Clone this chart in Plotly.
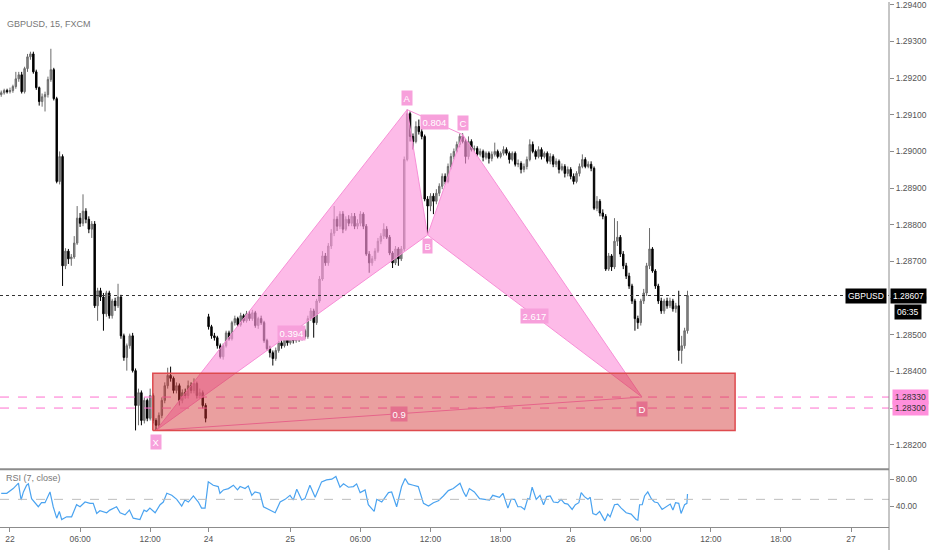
import plotly.graph_objects as go

# GBPUSD 15m candles, bar index 0 = 22 00:00 (weekend bars skipped)
bars = list(range(-3, 233))

opens = [1.29155, 1.29160, 1.29166, 1.29163, 1.29166, 1.29177, 1.29198, 1.29209, 1.29163, 1.29226,
         1.29258, 1.29266, 1.29217, 1.29174, 1.29136, 1.29149, 1.29155, 1.29196, 1.29223, 1.29144,
         1.28918, 1.28986, 1.28688, 1.28728, 1.28707, 1.28712, 1.28750, 1.28818, 1.28804, 1.28837,
         1.28815, 1.28788, 1.28802, 1.28579, 1.28620, 1.28603, 1.28557, 1.28614, 1.28552, 1.28592,
         1.28579, 1.28603, 1.28497, 1.28438, 1.28470, 1.28497, 1.28402, 1.28307, 1.28342, 1.28266,
         1.28321, 1.28272, 1.28334, 1.28266, 1.28253, 1.28280, 1.28321, 1.28361, 1.28389, 1.28381,
         1.28348, 1.28361, 1.28321, 1.28342, 1.28334, 1.28361, 1.28348, 1.28367, 1.28334, 1.28342,
         1.28307, 1.28549, 1.28522, 1.28497, 1.28492, 1.28470, 1.28440, 1.28470, 1.28505, 1.28489,
         1.28533, 1.28544, 1.28527, 1.28552, 1.28538, 1.28557, 1.28544, 1.28560, 1.28525, 1.28544,
         1.28533, 1.28484, 1.28462, 1.28451, 1.28435, 1.28457, 1.28478, 1.28470, 1.28489, 1.28478,
         1.28497, 1.28484, 1.28503, 1.28489, 1.28511, 1.28495, 1.28544, 1.28565, 1.28533, 1.28592,
         1.28652, 1.28715, 1.28696, 1.28742, 1.28777, 1.28815, 1.28796, 1.28829, 1.28788, 1.28815,
         1.28804, 1.28823, 1.28796, 1.28804, 1.28829, 1.28796, 1.28720, 1.28696, 1.28707, 1.28728,
         1.28755, 1.28769, 1.28788, 1.28766, 1.28723, 1.28696, 1.28734, 1.28707, 1.28734, 1.28978,
         1.29103, 1.29041, 1.29027, 1.29068, 1.29054, 1.29041, 1.28870, 1.28851, 1.28878, 1.28864,
         1.28886, 1.28905, 1.28932, 1.28918, 1.28959, 1.28986, 1.29000, 1.29019, 1.29041, 1.29027,
         1.28986, 1.29027, 1.29005, 1.29008, 1.28992, 1.29000, 1.28984, 1.28995, 1.28981, 1.28992,
         1.29000, 1.28986, 1.28995, 1.29005, 1.28995, 1.28978, 1.28995, 1.28965, 1.28967, 1.28951,
         1.28959, 1.28978, 1.29019, 1.29000, 1.28986, 1.29005, 1.28986, 1.28995, 1.28973, 1.28986,
         1.28965, 1.28973, 1.28951, 1.28959, 1.28940, 1.28951, 1.28932, 1.28918, 1.28940, 1.28959,
         1.28978, 1.28959, 1.28965, 1.28954, 1.28845, 1.28864, 1.28832, 1.28823, 1.28679, 1.28715,
         1.28685, 1.28755, 1.28766, 1.28720, 1.28688, 1.28660, 1.28633, 1.28592, 1.28544, 1.28533,
         1.28592, 1.28614, 1.28688, 1.28734, 1.28674, 1.28633, 1.28592, 1.28565, 1.28592, 1.28579,
         1.28592, 1.28571, 1.28579, 1.28457, 1.28470, 1.28511]

highs = [1.29166, 1.29171, 1.29171, 1.29174, 1.29182, 1.29217, 1.29217, 1.29217, 1.29231, 1.29266,
         1.29272, 1.29272, 1.29223, 1.29177, 1.29158, 1.29163, 1.29204, 1.29280, 1.29228, 1.29149,
         1.29000, 1.28992, 1.28736, 1.28734, 1.28720, 1.28769, 1.28851, 1.28832, 1.28883, 1.28845,
         1.28823, 1.28810, 1.28810, 1.28628, 1.28628, 1.28614, 1.28620, 1.28620, 1.28598, 1.28601,
         1.28639, 1.28609, 1.28503, 1.28476, 1.28503, 1.28505, 1.28408, 1.28353, 1.28348, 1.28329,
         1.28326, 1.28353, 1.28340, 1.28272, 1.28288, 1.28329, 1.28370, 1.28410, 1.28413, 1.28386,
         1.28370, 1.28367, 1.28351, 1.28353, 1.28375, 1.28370, 1.28381, 1.28372, 1.28353, 1.28348,
         1.28313, 1.28557, 1.28527, 1.28505, 1.28497, 1.28476, 1.28476, 1.28511, 1.28511, 1.28538,
         1.28552, 1.28549, 1.28560, 1.28557, 1.28565, 1.28565, 1.28568, 1.28565, 1.28549, 1.28552,
         1.28538, 1.28489, 1.28470, 1.28457, 1.28465, 1.28484, 1.28486, 1.28497, 1.28495, 1.28505,
         1.28503, 1.28511, 1.28508, 1.28525, 1.28516, 1.28552, 1.28573, 1.28571, 1.28598, 1.28660,
         1.28728, 1.28723, 1.28750, 1.28788, 1.28851, 1.28823, 1.28837, 1.28837, 1.28823, 1.28826,
         1.28832, 1.28832, 1.28815, 1.28837, 1.28834, 1.28802, 1.28728, 1.28715, 1.28736, 1.28764,
         1.28777, 1.28804, 1.28796, 1.28772, 1.28728, 1.28742, 1.28739, 1.28742, 1.28986, 1.29114,
         1.29109, 1.29049, 1.29082, 1.29087, 1.29062, 1.29046, 1.28878, 1.28886, 1.28886, 1.28897,
         1.28913, 1.28940, 1.28940, 1.28967, 1.28995, 1.29008, 1.29027, 1.29049, 1.29049, 1.29033,
         1.29041, 1.29033, 1.29016, 1.29014, 1.29008, 1.29005, 1.29000, 1.29000, 1.29000, 1.29024,
         1.29005, 1.29000, 1.29014, 1.29011, 1.29000, 1.29000, 1.29000, 1.28978, 1.28973, 1.28967,
         1.28986, 1.29033, 1.29027, 1.29005, 1.29014, 1.29011, 1.29000, 1.29000, 1.28995, 1.28992,
         1.28981, 1.28978, 1.28967, 1.28965, 1.28959, 1.28957, 1.28940, 1.28946, 1.28967, 1.28992,
         1.28984, 1.28973, 1.28973, 1.28959, 1.28878, 1.28870, 1.28842, 1.28829, 1.28723, 1.28720,
         1.28818, 1.28810, 1.28772, 1.28728, 1.28696, 1.28669, 1.28639, 1.28598, 1.28552, 1.28598,
         1.28625, 1.28696, 1.28791, 1.28739, 1.28679, 1.28639, 1.28601, 1.28598, 1.28601, 1.28601,
         1.28598, 1.28587, 1.28620, 1.28497, 1.28519, 1.28620]

lows = [1.29149, 1.29155, 1.29158, 1.29158, 1.29160, 1.29171, 1.29190, 1.29158, 1.29158, 1.29217,
        1.29250, 1.29212, 1.29168, 1.29125, 1.29122, 1.29109, 1.29147, 1.29190, 1.29139, 1.28913,
        1.28910, 1.28633, 1.28679, 1.28693, 1.28688, 1.28707, 1.28745, 1.28794, 1.28796, 1.28804,
        1.28777, 1.28764, 1.28573, 1.28538, 1.28592, 1.28511, 1.28549, 1.28544, 1.28544, 1.28565,
        1.28573, 1.28489, 1.28429, 1.28402, 1.28462, 1.28397, 1.28239, 1.28253, 1.28253, 1.28258,
        1.28264, 1.28266, 1.28258, 1.28239, 1.28245, 1.28272, 1.28313, 1.28353, 1.28372, 1.28340,
        1.28340, 1.28307, 1.28313, 1.28326, 1.28326, 1.28340, 1.28340, 1.28326, 1.28326, 1.28299,
        1.28261, 1.28514, 1.28489, 1.28484, 1.28462, 1.28435, 1.28432, 1.28465, 1.28484, 1.28484,
        1.28525, 1.28522, 1.28522, 1.28533, 1.28533, 1.28538, 1.28538, 1.28519, 1.28516, 1.28527,
        1.28478, 1.28457, 1.28438, 1.28416, 1.28429, 1.28451, 1.28462, 1.28465, 1.28470, 1.28473,
        1.28476, 1.28478, 1.28481, 1.28484, 1.28489, 1.28489, 1.28538, 1.28492, 1.28527, 1.28587,
        1.28647, 1.28688, 1.28688, 1.28734, 1.28769, 1.28783, 1.28788, 1.28777, 1.28783, 1.28796,
        1.28796, 1.28788, 1.28788, 1.28796, 1.28788, 1.28715, 1.28669, 1.28688, 1.28701, 1.28723,
        1.28747, 1.28761, 1.28761, 1.28717, 1.28682, 1.28690, 1.28688, 1.28701, 1.28728, 1.28973,
        1.29027, 1.29005, 1.29022, 1.29046, 1.29033, 1.28864, 1.28772, 1.28837, 1.28829, 1.28856,
        1.28878, 1.28897, 1.28910, 1.28913, 1.28951, 1.28978, 1.28995, 1.29011, 1.29022, 1.28967,
        1.28978, 1.29000, 1.28997, 1.28986, 1.28986, 1.28973, 1.28978, 1.28967, 1.28973, 1.28986,
        1.28981, 1.28981, 1.28989, 1.28989, 1.28967, 1.28973, 1.28959, 1.28957, 1.28940, 1.28943,
        1.28951, 1.28973, 1.28995, 1.28978, 1.28981, 1.28978, 1.28981, 1.28967, 1.28965, 1.28957,
        1.28957, 1.28940, 1.28946, 1.28929, 1.28932, 1.28924, 1.28910, 1.28913, 1.28932, 1.28954,
        1.28954, 1.28954, 1.28946, 1.28840, 1.28837, 1.28823, 1.28815, 1.28674, 1.28674, 1.28674,
        1.28679, 1.28742, 1.28712, 1.28679, 1.28652, 1.28625, 1.28584, 1.28511, 1.28516, 1.28525,
        1.28584, 1.28606, 1.28679, 1.28669, 1.28625, 1.28584, 1.28557, 1.28557, 1.28571, 1.28573,
        1.28563, 1.28560, 1.28429, 1.28421, 1.28462, 1.28503]

closes = [1.29160, 1.29166, 1.29163, 1.29166, 1.29177, 1.29198, 1.29209, 1.29163, 1.29226, 1.29258,
          1.29266, 1.29217, 1.29174, 1.29136, 1.29149, 1.29155, 1.29196, 1.29223, 1.29144, 1.28918,
          1.28986, 1.28688, 1.28728, 1.28707, 1.28712, 1.28750, 1.28818, 1.28804, 1.28837, 1.28815,
          1.28788, 1.28802, 1.28579, 1.28620, 1.28603, 1.28557, 1.28614, 1.28552, 1.28592, 1.28579,
          1.28603, 1.28497, 1.28438, 1.28470, 1.28497, 1.28402, 1.28307, 1.28342, 1.28266, 1.28321,
          1.28272, 1.28334, 1.28266, 1.28253, 1.28280, 1.28321, 1.28361, 1.28389, 1.28381, 1.28348,
          1.28361, 1.28321, 1.28342, 1.28334, 1.28361, 1.28348, 1.28367, 1.28334, 1.28342, 1.28307,
          1.28272, 1.28522, 1.28497, 1.28492, 1.28470, 1.28440, 1.28470, 1.28505, 1.28489, 1.28533,
          1.28544, 1.28527, 1.28552, 1.28538, 1.28557, 1.28544, 1.28560, 1.28525, 1.28544, 1.28533,
          1.28484, 1.28462, 1.28451, 1.28435, 1.28457, 1.28478, 1.28470, 1.28489, 1.28478, 1.28497,
          1.28484, 1.28503, 1.28489, 1.28511, 1.28495, 1.28544, 1.28565, 1.28533, 1.28592, 1.28652,
          1.28715, 1.28696, 1.28742, 1.28777, 1.28815, 1.28796, 1.28829, 1.28788, 1.28815, 1.28804,
          1.28823, 1.28796, 1.28804, 1.28829, 1.28796, 1.28720, 1.28696, 1.28707, 1.28728, 1.28755,
          1.28769, 1.28788, 1.28766, 1.28723, 1.28696, 1.28734, 1.28707, 1.28734, 1.28978, 1.29103,
          1.29041, 1.29027, 1.29068, 1.29054, 1.29041, 1.28870, 1.28851, 1.28878, 1.28864, 1.28886,
          1.28905, 1.28932, 1.28918, 1.28959, 1.28986, 1.29000, 1.29019, 1.29041, 1.29027, 1.28986,
          1.29027, 1.29005, 1.29008, 1.28992, 1.29000, 1.28984, 1.28995, 1.28981, 1.28992, 1.29000,
          1.28986, 1.28995, 1.29005, 1.28995, 1.28978, 1.28995, 1.28965, 1.28967, 1.28951, 1.28959,
          1.28978, 1.29019, 1.29000, 1.28986, 1.29005, 1.28986, 1.28995, 1.28973, 1.28986, 1.28965,
          1.28973, 1.28951, 1.28959, 1.28940, 1.28951, 1.28932, 1.28918, 1.28940, 1.28959, 1.28978,
          1.28959, 1.28965, 1.28954, 1.28845, 1.28864, 1.28832, 1.28823, 1.28679, 1.28715, 1.28685,
          1.28755, 1.28766, 1.28720, 1.28688, 1.28660, 1.28633, 1.28592, 1.28544, 1.28533, 1.28592,
          1.28614, 1.28688, 1.28734, 1.28674, 1.28633, 1.28592, 1.28565, 1.28592, 1.28579, 1.28592,
          1.28571, 1.28579, 1.28457, 1.28470, 1.28511, 1.28607]

# RSI(7)
rsi_bar = [-3, -1.1, 1.1, 2.9, 3.8, 4.6, 5.7, 6.3, 7.4, 8.6,
           9.7, 10.8, 12.0, 13.7, 14.8, 16.0, 16.9, 17.7, 19.4, 21.1,
           22.8, 24.0, 25.7, 27.4, 28.5, 29.7, 30.8, 33.1, 34.2, 36.5,
           37.7, 39.4, 40.9, 42.2, 44.5, 45.9, 46.8, 47.9, 49.7, 51.4,
           52.5, 53.7, 55.4, 57.1, 58.8, 59.9, 61.1, 62.8, 64.5, 65.6,
           66.8, 67.9, 69.6, 71.3, 71.9, 73.1, 74.8, 76.5, 77.9, 78.8,
           80.5, 81.6, 82.8, 83.9, 85.6, 86.8, 89.0, 90.8, 92.5, 94.2,
           95.9, 97.0, 98.2, 99.9, 101.0, 102.7, 104.5, 105.6, 106.7, 108.4,
           110.2, 111.6, 113.0, 114.2, 115.9, 117.6, 118.7, 119.9, 121.6, 122.7,
           124.7, 125.6, 127.3, 129.6, 130.7, 132.4, 134.1, 135.3, 136.4, 138.1,
           139.8, 141.6, 143.3, 145.0, 146.7, 148.4, 150.1, 151.8, 154.1, 155.3,
           156.2, 157.3, 159.0, 160.8, 162.5, 164.2, 165.3, 166.5, 167.6, 168.8,
           170.5, 171.6, 172.8, 173.9, 175.0, 176.2, 177.3, 177.9, 178.8, 180.2,
           181.5, 182.7, 183.8, 185.0, 186.1, 187.6, 188.7, 189.9, 191.0, 192.5,
           193.6, 194.8, 195.6, 196.7, 197.9, 198.7, 199.6, 200.7, 201.9, 202.8,
           203.7, 204.7, 205.5, 207.0, 208.1, 209.3, 211.0, 212.7, 214.4, 215.0,
           215.6, 216.5, 217.3, 218.4, 219.6, 220.7, 221.8, 223.3, 224.7, 226.1,
           227.0, 227.9, 229.0, 229.8, 231.0, 231.8, 232]
rsi = [59, 59, 66, 74, 49, 61, 71, 73, 51, 45,
       39, 45, 45, 61, 39, 22, 32, 20, 24, 24,
       42, 39, 46, 44, 44, 29, 33, 30, 34, 39,
       30, 27, 34, 22, 20, 34, 32, 37, 30, 42,
       46, 59, 56, 50, 40, 49, 46, 55, 46, 37,
       37, 76, 71, 69, 59, 64, 66, 71, 64, 69,
       66, 70, 56, 61, 59, 39, 34, 30, 46, 50,
       56, 49, 65, 49, 51, 71, 53, 66, 76, 79,
       80, 84, 68, 73, 68, 69, 73, 60, 64, 42,
       32, 50, 46, 60, 61, 39, 69, 81, 73, 71,
       69, 44, 40, 45, 48, 55, 63, 66, 74, 61,
       54, 66, 61, 51, 50, 49, 56, 54, 53, 59,
       37, 50, 50, 39, 39, 35, 51, 50, 68, 50,
       56, 42, 54, 55, 46, 45, 50, 44, 43, 35,
       42, 45, 60, 54, 50, 53, 29, 27, 32, 25,
       18, 28, 24, 42, 43, 37, 30, 28, 20, 19,
       42, 42, 55, 61, 51, 46, 45, 35, 39, 43,
       34, 45, 44, 29, 42, 44, 58]
rsi_mid = 50

# XABCD pattern points
pattern_names = ["X", "A", "B", "C", "D"]
pattern_bar = [50, 136, 143, 155, 216.4]
pattern_price = [1.28239, 1.29114, 1.28772, 1.29046, 1.28330]
ratio_text = ["0.394", "0.804", "2.617", "0.9"]

# potential reversal zone and levels
zone_bars = [48.9, 248.3]
zone_prices = [1.28239, 1.28395]
levels = [1.28330, 1.28300]
last_price = 1.28607
countdown = "06:35"

tick_bars = [0, 24, 48, 68, 96, 120, 144, 168, 192, 216, 240, 264, 288]
tick_text = ["22", "06:00", "12:00", "24", "25", "06:00", "12:00", "18:00",
             "26", "06:00", "12:00", "18:00", "27"]
price_ticks = [1.282, 1.283, 1.284, 1.285, 1.286, 1.287, 1.288, 1.289,
               1.290, 1.291, 1.292, 1.293, 1.294]
rsi_ticks = [40, 80]

FONT = "Liberation Sans"
PINK_FILL = "rgba(252,150,220,0.65)"
PINK_LINE = "#f78fd6"
PINK_LABEL = "#f7a0db"
PINK_DARK = "#e4708e"
x_range = [-3.42, 301.0]

P = dict(zip(pattern_names, zip(pattern_bar, pattern_price)))

fig = go.Figure()

# harmonic level lines
for lv in levels:
    fig.add_trace(go.Scatter(x=x_range, y=[lv, lv], mode="lines",
                             line=dict(color="#ff6fcf", width=1, dash="dash"),
                             hoverinfo="skip", showlegend=False))

# XAB and BCD triangles
for tri in (["X", "A", "B"], ["B", "C", "D"]):
    fig.add_trace(go.Scatter(x=[P[k][0] for k in tri] + [P[tri[0]][0]],
                             y=[P[k][1] for k in tri] + [P[tri[0]][1]],
                             mode="lines", fill="toself", fillcolor=PINK_FILL,
                             line=dict(color=PINK_LINE, width=1),
                             hoverinfo="skip", showlegend=False))

# thin A-C and X-D legs
for a, b in (("A", "C"), ("X", "D")):
    fig.add_trace(go.Scatter(x=[P[a][0], P[b][0]], y=[P[a][1], P[b][1]], mode="lines",
                             line=dict(color=PINK_LINE, width=1),
                             hoverinfo="skip", showlegend=False))

# reversal zone
fig.add_trace(go.Scatter(x=[zone_bars[0], zone_bars[1], zone_bars[1], zone_bars[0], zone_bars[0]],
                         y=[zone_prices[0], zone_prices[0], zone_prices[1], zone_prices[1], zone_prices[0]],
                         mode="lines", fill="toself", fillcolor="rgba(210,50,50,0.47)",
                         line=dict(color="#de4a4e", width=1.5),
                         hoverinfo="skip", showlegend=False))

fig.add_trace(go.Candlestick(x=bars, open=opens, high=highs, low=lows, close=closes,
                             increasing=dict(line=dict(color="#6b6b6b", width=1), fillcolor="#8a8a8a"),
                             decreasing=dict(line=dict(color="#000000", width=1), fillcolor="#000000"),
                             whiskerwidth=0, hoverinfo="skip", showlegend=False))

fig.add_trace(go.Scatter(x=rsi_bar, y=rsi, yaxis="y2", mode="lines",
                         line=dict(color="#4aa3f0", width=1.2),
                         hoverinfo="skip", showlegend=False))

shapes = [
    dict(type="line", xref="paper", yref="y", x0=0, x1=1, y0=last_price, y1=last_price,
         line=dict(color="#333333", width=1, dash="dot")),
    dict(type="line", xref="paper", yref="y2", x0=0, x1=1, y0=rsi_mid, y1=rsi_mid,
         line=dict(color="#bdbdbd", width=1, dash="dash")),
    dict(type="line", xref="paper", yref="paper", x0=0, x1=1, y0=0.1101, y1=0.1101,
         line=dict(color="#8c8c8c", width=2)),
    dict(type="line", xref="paper", yref="paper", x0=1, x1=1, y0=-0.05, y1=1,
         line=dict(color="#8c8c8c", width=1)),
]

annotations = []


def tag(x, y, text, color, yshift):
    annotations.append(dict(x=x, y=y, xref="x", yref="y", text=text, showarrow=False,
                            bgcolor=color, borderpad=1.5, yshift=yshift,
                            font=dict(family=FONT, size=9.5, color="white")))


shift = {"X": -12, "A": 12, "B": -11, "C": 12, "D": -12}
for k in pattern_names:
    tag(P[k][0], P[k][1], k, PINK_DARK if k == "D" else PINK_LABEL, shift[k])

legs = [("X", "B"), ("A", "C"), ("B", "D"), ("X", "D")]
for (a, b), txt in zip(legs, ratio_text):
    mx = (P[a][0] + P[b][0]) / 2
    my = (P[a][1] + P[b][1]) / 2
    tag(mx, my, txt, PINK_DARK if (a, b) == ("X", "D") else PINK_LABEL, 0)

# right-axis price tags (drawn over the regular tick labels)
for lv in levels:
    annotations.append(dict(x=1, y=lv, xref="paper", yref="y", text=f"{lv:.5f}", showarrow=False,
                            xanchor="left", xshift=3, bgcolor="#ff8fdc", borderpad=2,
                            font=dict(family=FONT, size=8.5, color="#333333")))
annotations.append(dict(x=1, y=last_price, xref="paper", yref="y", text=f"{last_price:.5f}",
                        showarrow=False, xanchor="left", xshift=1, bgcolor="#000000", borderpad=2,
                        font=dict(family=FONT, size=8.5, color="white")))
annotations.append(dict(x=1, y=last_price, xref="paper", yref="y", text=countdown,
                        showarrow=False, xanchor="left", xshift=5, yshift=-16, bgcolor="#000000",
                        borderpad=2, font=dict(family=FONT, size=8.5, color="white")))
annotations.append(dict(x=1, y=last_price, xref="paper", yref="y", text="GBPUSD",
                        showarrow=False, xanchor="right", xshift=-2, bgcolor="#000000",
                        borderpad=2, font=dict(family=FONT, size=8.5, color="white")))

annotations.append(dict(x=0, y=0.9715, xref="paper", yref="paper", text="GBPUSD, 15, FXCM",
                        showarrow=False, xanchor="left", xshift=5,
                        font=dict(family=FONT, size=9, color="#777777")))
annotations.append(dict(x=0, y=0.0797, xref="paper", yref="paper", text="RSI (7, close)",
                        showarrow=False, xanchor="left", xshift=4,
                        font=dict(family=FONT, size=9, color="#777777")))

fig.update_layout(
    width=932, height=550,
    margin=dict(l=0, r=43, t=0, b=23),
    paper_bgcolor="white", plot_bgcolor="white",
    showlegend=False,
    xaxis=dict(range=x_range, anchor="y2", tickvals=tick_bars, ticktext=tick_text,
               showgrid=False, zeroline=False, showline=True, linecolor="#8c8c8c",
               ticks="outside", ticklen=4, tickcolor="#8c8c8c",
               tickfont=dict(family=FONT, size=8.5, color="#555555"),
               rangeslider=dict(visible=False), fixedrange=True),
    yaxis=dict(domain=[0.1101, 1], range=[1.281332, 1.294076], side="right",
               tickvals=price_ticks, tickformat=".5f", showgrid=False, zeroline=False,
               showline=False, ticks="outside", ticklen=4, tickcolor="#8c8c8c",
               ticklabeloverflow="allow",
               tickfont=dict(family=FONT, size=8.5, color="#555555")),
    yaxis2=dict(domain=[0, 0.1101], range=[8.9, 94.8], side="right",
                tickvals=rsi_ticks, tickformat=".2f", showgrid=False, zeroline=False,
                showline=False, ticks="outside", ticklen=4, tickcolor="#8c8c8c",
                tickfont=dict(family=FONT, size=8.5, color="#555555")),
    shapes=shapes,
    annotations=annotations,
)

# page body has a default margin; drop it so the chart fills the window
fig.write_html("out.html", config={"displayModeBar": False},
               post_script="document.body.style.margin='0';document.body.style.overflow='hidden';")
